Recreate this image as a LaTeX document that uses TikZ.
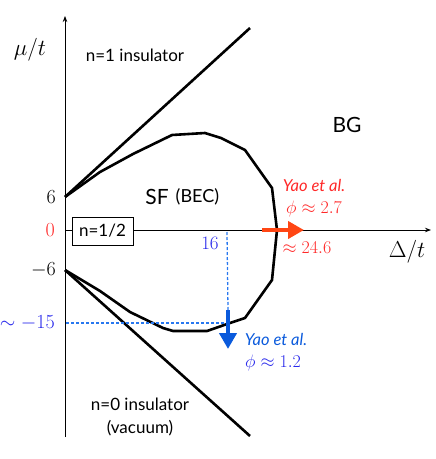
\RequirePackage{fix-cm}
\documentclass[tikz,border=0pt]{standalone}
\usepackage{amsmath,amssymb}
\usepackage{fontspec}
\setsansfont{Lato}
\usetikzlibrary{positioning,arrows.meta}

\definecolor{resred}{RGB}{255,40,40}
\definecolor{arrred}{RGB}{255,70,20}
\definecolor{resblue}{RGB}{40,40,235}
\definecolor{arrblue}{RGB}{10,90,220}
\definecolor{dashblue}{RGB}{40,120,240}

\begin{document}
\begin{tikzpicture}[
    x=1pt, y=-1pt,
    >=Stealth,
    lbl/.style={font=\fontsize{17}{19}\selectfont\sffamily},
    biglbl/.style={font=\fontsize{21}{23}\selectfont\sffamily},
    numlbl/.style={font=\fontsize{20}{22}\selectfont, anchor=east, inner sep=1pt},
    axlbl/.style={font=\fontsize{23}{25}\selectfont},
    reflbl/.style={font=\fontsize{16.5}{18}\selectfont\sffamily\itshape, inner sep=0pt},
    vallbl/.style={font=\fontsize{18}{20}\selectfont, inner sep=0pt},
    axis/.style={-{Stealth[length=6pt,width=4.5pt]}, line width=0.8pt},
    phase/.style={line width=2.6pt, line join=round},
    dashline/.style={draw=dashblue, line width=1.3pt, dash pattern=on 3pt off 2pt},
    fatarrow/.style={line width=4pt, -{Triangle[length=16pt,width=17pt]}}
]
    \useasboundingbox (0,0) rectangle (436,459);

    % axes
    \coordinate (origin) at (65,230);
    \coordinate (ytop) at (65,16);
    \coordinate (ybot) at (65,437);
    \coordinate (xend) at (431,230);
    \coordinate (up) at (65,197);
    \coordinate (dn) at (65,270);
    \coordinate (n1end) at (250,28);
    \coordinate (n0end) at (250,436);

    \draw[axis] (ybot) -- (ytop);
    \draw[axis] (origin) -- (xend);

    % insulator boundaries
    \draw[phase] (up) -- (n1end);
    \draw[phase] (dn) -- (n0end);

    % SF boundary
    \draw[phase] (up) -- (100,172) -- (133,154) -- (172,135) -- (205,133)
        -- (221,138) -- (245,150) -- (272,188) -- (277,230) -- (272,280)
        -- (245,318) -- (230,323) -- (207,331) -- (173,331) -- (163,328)
        -- (130,312) -- (100,291) -- (dn);

    % dashed guides
    \coordinate (xmark) at (227,232);
    \coordinate (ymark) at (66,323);
    \coordinate (corner) at (227,323);
    \coordinate (bluetail) at (228,310);
    \coordinate (bluetip) at (228,349);
    \coordinate (redtail) at (262,230);
    \coordinate (redtip) at (304,230);

    \draw[dashline] (xmark) -- (bluetail);
    \draw[dashline] (ymark) -- (corner);

    % arrows
    \draw[fatarrow, draw=arrred, fill=arrred] (redtail) -- (redtip);
    \draw[fatarrow, draw=arrblue, fill=arrblue] (bluetail) -- (bluetip);

    % labels
    \node[axlbl] (mu) at (30,50) {$\mu/t$};
    \node[axlbl] (delta) at (407,252) {$\Delta/t$};
    \node[lbl] (n1ins) at (135,55) {n=1 insulator};
    \node[lbl, align=center] (n0ins) at (140,417) {n=0 insulator\\[4pt](vacuum)};
    \node[biglbl] (bg) at (347,125) {BG};
    \node[biglbl] (sf) at (157,197) {SF};
    \node[right=0pt of sf, font=\fontsize{18}{20}\selectfont\sffamily] (bec) {(BEC)};
    \node[lbl, draw, fill=white, line width=1pt, minimum width=61pt,
        minimum height=28pt, inner sep=1pt] (half) at (102.5,231) {n=1/2};

    \node[numlbl] (six) at (57,197) {$6$};
    \node[numlbl, text=resred] (zero) at (56,230) {$0$};
    \node[numlbl] (msix) at (57,270) {$-6$};
    \node[numlbl, text=resblue] (mfifteen) at (56,323) {$\sim-15$};
    \node[font=\fontsize{19}{21}\selectfont, text=resblue] (sixteen) at (210,243) {$16$};

    \node[reflbl, text=resred] (yaored) at (314,185) {Yao et al.};
    \node[vallbl, text=resred] (phired) at (314,209) {$\phi\approx2.7$};
    \node[vallbl, text=resred] (crit) at (307,248) {$\approx24.6$};
    \node[reflbl, text=arrblue] (yaoblue) at (276,339) {Yao et al.};
    \node[vallbl, text=resblue] (phiblue) at (273,363) {$\phi\approx1.2$};

\end{tikzpicture}
\end{document}
